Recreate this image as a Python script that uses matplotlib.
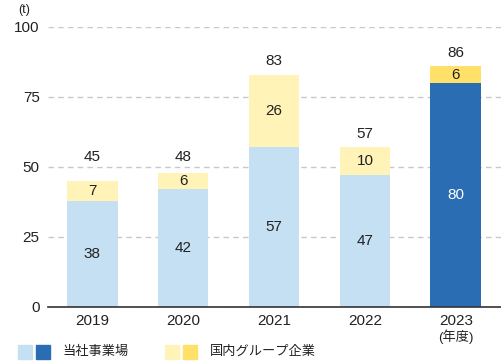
import matplotlib.pyplot as plt

plt.rcParams['font.family'] = ['Liberation Sans', 'Noto Sans CJK JP', 'DejaVu Sans']

years = ['2019', '2020', '2021', '2022', '2023']
own_sites = [38, 42, 57, 47, 80]
group_cos = [7, 6, 26, 10, 6]
totals = [45, 48, 83, 57, 86]

blue_light, blue_dark = '#c5dff3', '#2a6db2'
yel_light, yel_dark = '#fff3b8', '#ffe169'
grid_ticks = [0, 25, 50, 75, 100]

fig = plt.figure(figsize=(5.01, 3.61), dpi=100)
ax = fig.add_axes([48 / 501, 54 / 361, 453 / 501, 280 / 361])

x = range(len(years))
lower_c = [blue_light] * 4 + [blue_dark]
upper_c = [yel_light] * 4 + [yel_dark]
ax.bar(x, own_sites, width=0.56, color=lower_c, zorder=2)
ax.bar(x, group_cos, width=0.56, bottom=own_sites, color=upper_c, zorder=2)

for i in x:
    c = 'white' if i == 4 else '#222222'
    ax.text(i, own_sites[i] / 2, str(own_sites[i]), ha='center', va='center', fontsize=11, color=c, zorder=3)
    ax.text(i, own_sites[i] + group_cos[i] / 2, str(group_cos[i]), ha='center', va='center', fontsize=11, color='#222222', zorder=3)
    # total label above the bar, nudged up if it would sit on a gridline
    ty = totals[i] + 4.8
    for g in grid_ticks:
        if abs(ty - g) < 2.8:
            ty = g + 3.5
    ax.text(i, ty, str(totals[i]), ha='center', va='center', fontsize=11, color='#222222')

ax.set_xlim(-0.484, 4.495)
ax.set_ylim(0, 100)
ax.set_yticks(grid_ticks)
ax.set_xticks(list(x))
ax.set_xticklabels(years)
ax.tick_params(axis='both', length=0, labelsize=11, colors='#222222')
ax.tick_params(axis='y', pad=6)
ax.tick_params(axis='x', pad=5)
ax.grid(axis='y', linestyle=(0, (4, 3)), color='#c8c8c8', linewidth=1, zorder=0)
for s in ['top', 'right', 'left']:
    ax.spines[s].set_visible(False)
ax.spines['bottom'].set_color('#333333')
ax.spines['bottom'].set_linewidth(1.2)
ax.spines['bottom'].set_zorder(4)

fig.text(24 / 501, 1 - 10 / 361, '(t)', ha='center', va='center', fontsize=9, color='#222222')
fig.text(456 / 501, 1 - 337 / 361, '(年度)', ha='center', va='center', fontsize=9.5, color='#222222')

# legend
for px, col in [(18, blue_light), (36, blue_dark), (165, yel_light), (183, yel_dark)]:
    fig.patches.append(plt.Rectangle((px / 501, 1 - 359 / 361), 14 / 501, 14 / 361,
                                     transform=fig.transFigure, color=col))
fig.text(62 / 501, 1 - 352 / 361, '当社事業場', ha='left', va='center', fontsize=9.5, color='#222222')
fig.text(210 / 501, 1 - 352 / 361, '国内グループ企業', ha='left', va='center', fontsize=9.5, color='#222222')

fig.savefig('out.png', dpi=100)
